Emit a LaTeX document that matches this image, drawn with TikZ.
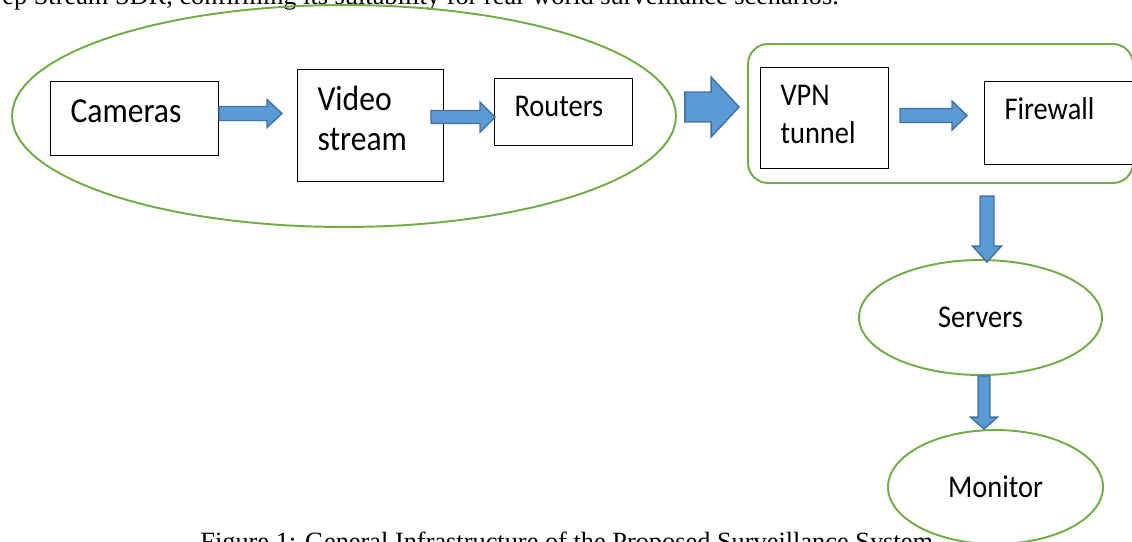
\documentclass[tikz,border=0pt]{standalone}
\usepackage{fontspec}
\setmainfont{Liberation Serif}
\newfontfamily\boxfont[FakeStretch=0.9]{Carlito}
\usepackage{tikz}
\usetikzlibrary{shapes,positioning,calc}
\definecolor{grpgreen}{HTML}{70AD47}
\definecolor{arrowfill}{HTML}{5B9BD5}
\definecolor{arrowline}{HTML}{41719C}
\tikzset{
	box/.style={draw=black,line width=0.6pt,fill=white,anchor=north west,align=left,inner xsep=0.4cm,inner ysep=0pt},
	bigtext/.style={font=\boxfont\fontsize{20}{22.8}\selectfont},
	smalltext/.style={font=\boxfont\fontsize{18}{21.6}\selectfont},
	grpline/.style={draw=grpgreen,line width=1.1pt,inner sep=0pt},
	barrow/.style={fill=arrowfill,draw=arrowline,line width=0.8pt,line join=miter},
	bodytext/.style={font=\fontsize{15}{18}\selectfont,inner sep=0pt}
}
\newcommand{\blockarrow}[5]{%
	\coordinate (ba) at (#1);
	\coordinate (bb) at (#2);
	\coordinate (bh) at ($(bb)!#5!(ba)$);
	\filldraw[barrow] ($(ba)!#3!90:(bb)$) -- ($(bh)!#3!90:(bb)$) -- ($(bh)!#4!90:(bb)$) -- (bb)
		-- ($(bh)!#4!-90:(bb)$) -- ($(bh)!#3!-90:(bb)$) -- ($(ba)!#3!-90:(bb)$) -- cycle;
}
\begin{document}
\begin{tikzpicture}[x=0.02cm,y=-0.02cm]
		\useasboundingbox (0,0) rectangle (1132,541);
		\clip (0,0) rectangle (1132,541);
		\node[bodytext,anchor=base west] (prev) at (2,5) {ep Stream SDR, confirming its suitability for real-world surveillance scenarios.};
		\node[bodytext,anchor=base west] (caption) at (200,550) {Figure 1: General Infrastructure of the Proposed Surveillance System};
		\node[grpline,ellipse,minimum width=13.28cm,minimum height=4.44cm] (edge) at (344,116) {};
		\node[grpline,rectangle,rounded corners=0.4cm,minimum width=7.7cm,minimum height=2.78cm] (tunnel) at (940.5,113.5) {};
		\node[box,bigtext,text width=2.56cm,text height=0.82cm,text depth=0.66cm] (cam) at (50,81) {Cameras};
		\node[box,bigtext,text width=2.12cm,text height=0.82cm,text depth=1.42cm] (vid) at (297,69) {Video\\stream};
		\node[box,smalltext,text width=1.96cm,text height=0.76cm,text depth=0.58cm] (rou) at (494,78) {Routers};
		\node[box,smalltext,text width=1.76cm,text height=0.76cm,text depth=1.26cm] (vpn) at (760,67) {VPN\\tunnel};
		\node[box,smalltext,text width=2.6cm,text height=0.76cm,text depth=0.9cm] (fw) at (984,81) {Firewall};
		\node[grpline,ellipse,smalltext,minimum width=4.86cm,minimum height=2.3cm] (srv) at (980.5,317.5) {Servers};
		\node[grpline,ellipse,smalltext,minimum width=4.3cm,minimum height=2.28cm] (mon) at (995.5,487) {Monitor};
		\blockarrow{$(cam.east)+(0,-5)$}{$(vid.west)+(-15,-12)$}{0.14cm}{0.28cm}{0.3cm}
		\blockarrow{$(vid.east)+(-13,-8.5)$}{$(rou.west)+(1,5)$}{0.13cm}{0.3cm}{0.3cm}
		\blockarrow{$(edge.east)+(8,-9)$}{$(tunnel.west)+(-8,-6.5)$}{0.3cm}{0.6cm}{0.56cm}
		\blockarrow{$(vpn.east)+(11,-2.5)$}{$(fw.west)+(-17,-7.5)$}{0.14cm}{0.29cm}{0.3cm}
		\blockarrow{$(srv.north)+(6.5,-63)$}{$(srv.north)+(6.5,3)$}{0.14cm}{0.29cm}{0.32cm}
		\blockarrow{$(srv.south)+(3.5,0)$}{$(mon.north)+(-11.5,0)$}{0.12cm}{0.27cm}{0.24cm}
\end{tikzpicture}
\end{document}
